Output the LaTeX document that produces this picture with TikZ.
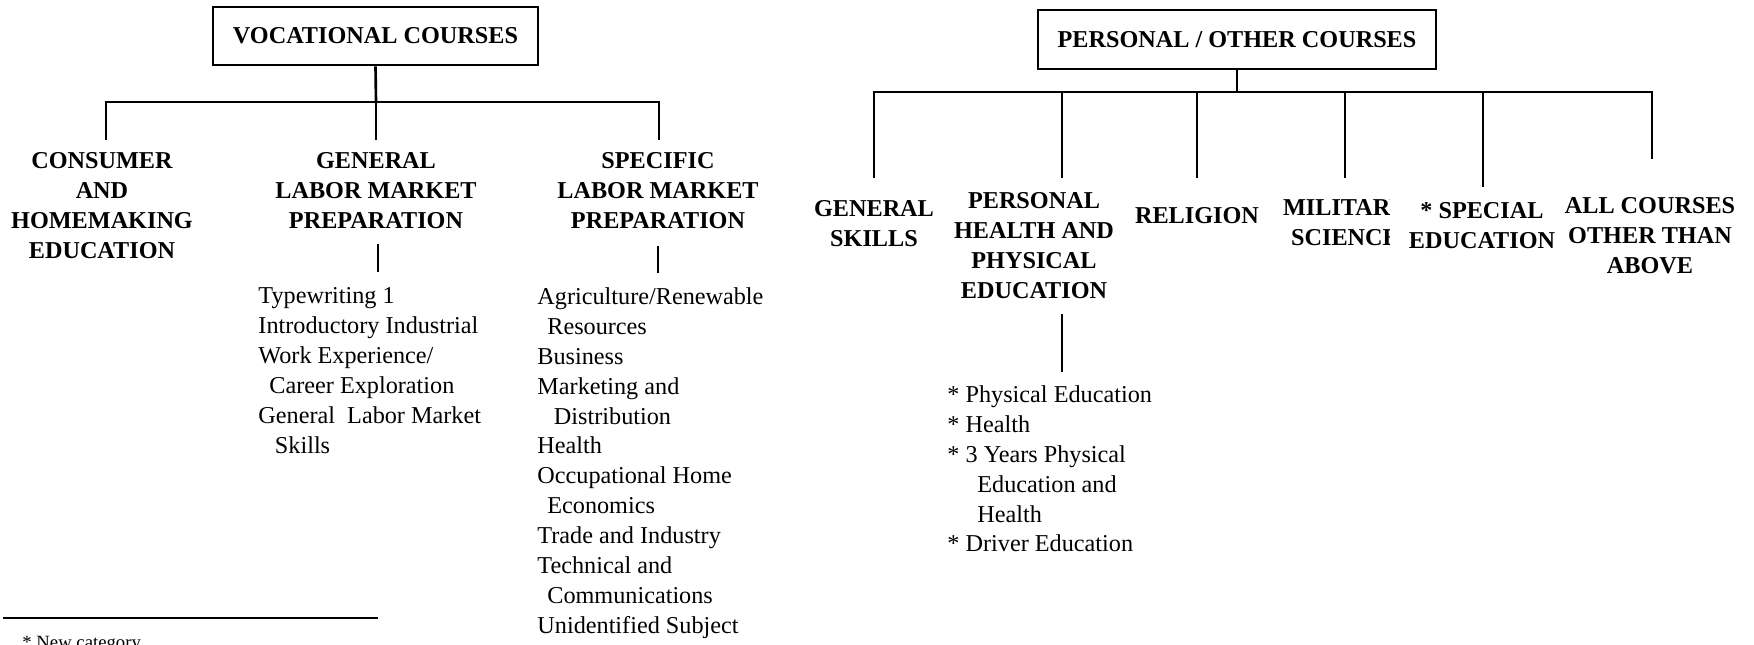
\documentclass[tikz,border=0pt]{standalone}
\usepackage{fontspec}
\setmainfont{Liberation Serif}
\usetikzlibrary{positioning, calc}
\tikzset{
  headbox/.style={rectangle, draw=black, line width=1.2pt, inner sep=0pt,
                  font=\bfseries\fontsize{11}{13.6}\selectfont},
  catlabel/.style={align=center, inner sep=0pt, anchor=north,
                   font=\bfseries\fontsize{11}{13.6}\selectfont},
  sublist/.style={align=left, inner sep=0pt, anchor=north west,
                  font=\fontsize{11}{13.6}\selectfont},
  link/.style={line width=1.2pt, draw=black},
}

\begin{document}
\begin{tikzpicture}[x=0.015964cm, y=-0.015964cm]
  \useasboundingbox (0,0) rectangle (1754,645);
  \clip (0,0) rectangle (1754,645);

  % Vocational tree
  \node[headbox, minimum width=147.6pt, minimum height=26.3pt] (voc)
    at (375.5,36) {VOCATIONAL COURSES};
  \coordinate (vbar) at (376,102);
  \coordinate (vd1) at (106,140);
  \coordinate (vd2) at (376,140);
  \coordinate (vd3) at (659,140);

  \node[catlabel] (cons) at (102,152) {CONSUMER\\AND\\HOMEMAKING\\EDUCATION};
  \node[catlabel] (genl) at (376,152) {GENERAL\\LABOR MARKET\\PREPARATION};
  \node[catlabel] (spec) at (658,152) {SPECIFIC\\LABOR MARKET\\PREPARATION};

  \node[sublist] (genlist) at (258,287)
    {Typewriting 1\\Introductory Industrial\\Work Experience/\\
     \hspace*{5pt}Career Exploration\\General\ \ Labor Market\\
     \hspace*{7.5pt}Skills};
  \node[sublist] (speclist) at (537,287)
    {Agriculture/Renewable\\\hspace*{4.5pt}Resources\\Business\\
     Marketing and\\\hspace*{7.5pt}Distribution\\Health\\
     Occupational Home\\\hspace*{4.5pt}Economics\\Trade and Industry\\
     Technical and\\\hspace*{4.5pt}Communications\\Unidentified Subject};

  % Personal / other tree
  \node[headbox, minimum width=180.8pt, minimum height=26.8pt] (pers)
    at (1237,39.5) {PERSONAL / OTHER COURSES};
  \coordinate (pbar) at (1237,92);
  \coordinate (pd1) at (874,178);
  \coordinate (pd2) at (1062,178);
  \coordinate (pd3) at (1197,178);
  \coordinate (pd4) at (1345,178);
  \coordinate (pd5) at (1483,187);
  \coordinate (pd6) at (1652,159);

  \node[catlabel] (gskl) at (874,200) {GENERAL\\SKILLS};
  \node[catlabel] (phpe) at (1034,192)
    {PERSONAL\\HEALTH AND\\PHYSICAL\\EDUCATION};
  \node[catlabel] (relg) at (1197,207) {RELIGION};
  \begin{scope}
    \clip (1250,180) rectangle (1389,270);
    \node[catlabel] (mils) at (1345,199) {MILITARY\\SCIENCE};
  \end{scope}
  \node[catlabel] (sped) at (1482,202) {* SPECIAL\\EDUCATION};
  \node[catlabel] (allc) at (1650,197) {ALL COURSES\\OTHER THAN\\ABOVE};

  \node[sublist] (pelist) at (947,385)
    {* Physical Education\\* Health\\* 3 Years Physical\\
     \hspace*{13.6pt}Education and\\\hspace*{13.6pt}Health\\
     * Driver Education};

  % Footnote
  \draw[link] (3,618) -- (378,618);
  \node[anchor=base west, inner sep=0pt,
        font=\fontsize{8.5}{10}\selectfont] (fnote) at (22,648)
    {* New category};

  % Connectors
  \draw[link] (voc.south) -- (vbar);
  \draw[link] (vd1) -- (vd1 |- vbar) -- (vd3 |- vbar) -- (vd3);
  \draw[link] (vbar) -- (vd2);
  \draw[link] ($(genl.south)+(2,15)$) -- ($(genl.south |- genlist.north)+(2,-15)$);
  \draw[link] ($(spec.south)+(0,17)$) -- ($(spec.south |- speclist.north)+(0,-14)$);

  \draw[link] (pers.south) -- (pbar);
  \draw[link] (pd1) -- (pd1 |- pbar) -- (pd6 |- pbar) -- (pd6);
  \foreach \i in {2,...,5}
    \draw[link] (pd\i |- pbar) -- (pd\i);
  \draw[link] ($(pd2 |- phpe.south)+(0,15)$) -- ($(pd2 |- pelist.north)+(0,-13)$);
\end{tikzpicture}
\end{document}
